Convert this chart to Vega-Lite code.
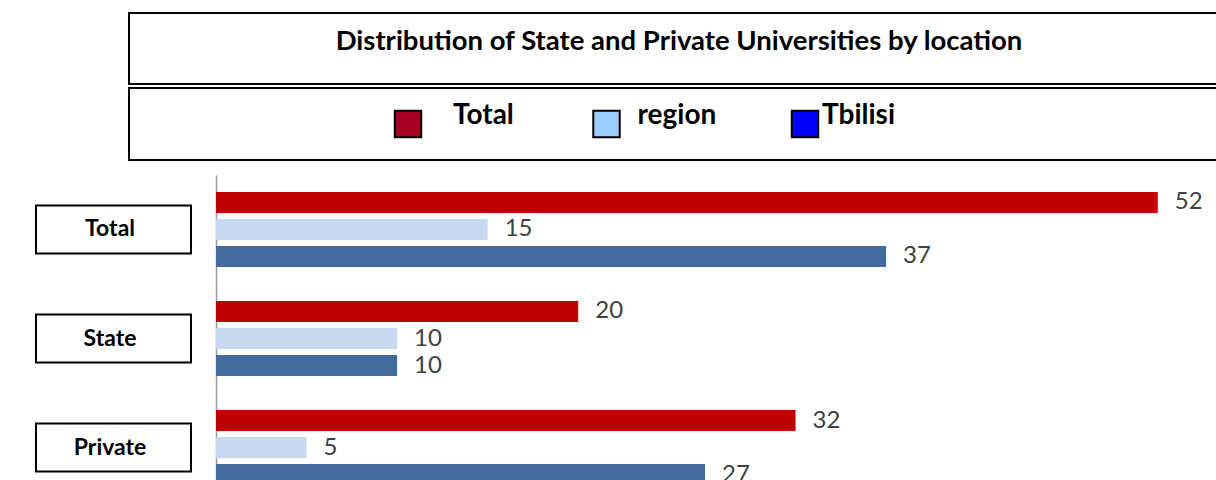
{
  "$schema": "https://vega.github.io/schema/vega-lite/v6.json",
  "padding": {"left": 34, "top": 12, "right": 0, "bottom": 0},
  "background": "white",
  "config": {"view": {"stroke": null}, "font": "Lato"},
  "datasets": {
    "title": [{"text": "Distribution of State and Private Universities by location"}],
    "legend": [{"series": "Total"}, {"series": "region"}, {"series": "Tbilisi"}],
    "bars": [
      {"group": "Total", "series": "Total", "value": 52},
      {"group": "Total", "series": "region", "value": 15},
      {"group": "Total", "series": "Tbilisi", "value": 37},
      {"group": "State", "series": "Total", "value": 20},
      {"group": "State", "series": "region", "value": 10},
      {"group": "State", "series": "Tbilisi", "value": 10},
      {"group": "Private", "series": "Total", "value": 32},
      {"group": "Private", "series": "region", "value": 5},
      {"group": "Private", "series": "Tbilisi", "value": 27}
    ]
  },
  "resolve": {"scale": {"x": "independent", "y": "independent", "color": "independent", "fill": "independent"}},
  "bounds": "flush",
  "spacing": 4,
  "vconcat": [
    {
      "width": 1100,
      "height": 71,
      "view": {"stroke": "black", "strokeWidth": 2},
      "data": {"name": "title"},
      "mark": {"type": "text", "font": "Lato", "fontWeight": "bold", "fontSize": 27.5, "baseline": "alphabetic", "dy": 1, "color": "black"},
      "encoding": {"text": {"field": "text"}}
    },
    {
      "width": 1100,
      "height": 72,
      "view": {"stroke": "black", "strokeWidth": 2},
      "data": {"name": "legend"},
      "resolve": {"scale": {"x": "independent"}},
      "layer": [
        {
          "mark": {"type": "point", "shape": "square", "filled": true, "size": 700, "stroke": "black", "strokeWidth": 2, "opacity": 1},
          "encoding": {
            "x": {"field": "series", "type": "nominal", "scale": {"type": "point", "domain": ["Total", "region", "Tbilisi"], "range": [279, 676], "padding": 0}, "axis": null},
            "fill": {"field": "series", "type": "nominal", "scale": {"domain": ["Total", "region", "Tbilisi"], "range": ["#A50021", "#99CCFF", "#0000FF"]}, "legend": null}
          }
        },
        {
          "mark": {"type": "text", "font": "Lato", "fontWeight": "bold", "fontSize": 28, "align": "left", "baseline": "alphabetic", "color": "black"},
          "encoding": {
            "x": {"field": "series", "type": "nominal", "scale": {"type": "point", "domain": ["Total", "region", "Tbilisi"], "range": [324, 693], "padding": 0}, "axis": null},
            "text": {"field": "series"}
          }
        }
      ]
    },
    {
      "width": 1088,
      "height": 338,
      "data": {"name": "bars"},
      "encoding": {
        "y": {"field": "group", "type": "nominal", "sort": ["Total", "State", "Private"], "scale": {"range": [11, 338], "paddingInner": 0.257, "paddingOuter": 0.128}, "axis": {"title": null, "labels": false, "ticks": false, "domainColor": "#9A9A9A", "domainWidth": 1.5, "offset": -87}}
      },
      "layer": [
        {
          "mark": {"type": "bar"},
          "encoding": {
            "x": {"field": "value", "type": "quantitative", "scale": {"domain": [-4.804, 55.27], "nice": false, "zero": false}, "axis": null},
            "yOffset": {"field": "series", "type": "nominal", "sort": ["Total", "region", "Tbilisi"], "scale": {"paddingInner": 0.222, "paddingOuter": 0.111}},
            "color": {"field": "series", "type": "nominal", "scale": {"domain": ["Total", "region", "Tbilisi"], "range": ["#C00000", "#C6D9F1", "#416B9C"]}, "legend": null}
          }
        },
        {
          "mark": {"type": "text", "font": "Lato", "fontSize": 24, "align": "left", "baseline": "middle", "dx": 17, "color": "#404040"},
          "encoding": {
            "x": {"field": "value", "type": "quantitative"},
            "yOffset": {"field": "series", "type": "nominal", "sort": ["Total", "region", "Tbilisi"]},
            "text": {"field": "value", "type": "quantitative"}
          }
        },
        {
          "transform": [{"filter": "datum.series === 'Total'"}],
          "mark": {"type": "bar", "fill": "white", "stroke": "black", "strokeWidth": 2, "size": 48},
          "encoding": {
            "x": {"datum": -9.94, "type": "quantitative"},
            "x2": {"datum": -1.38}
          }
        },
        {
          "transform": [{"filter": "datum.series === 'Total'"}],
          "mark": {"type": "text", "font": "Lato", "fontWeight": "bold", "fontSize": 23, "align": "center", "baseline": "middle", "color": "black"},
          "encoding": {
            "x": {"datum": -5.85, "type": "quantitative"},
            "text": {"field": "group"}
          }
        }
      ]
    }
  ]
}
